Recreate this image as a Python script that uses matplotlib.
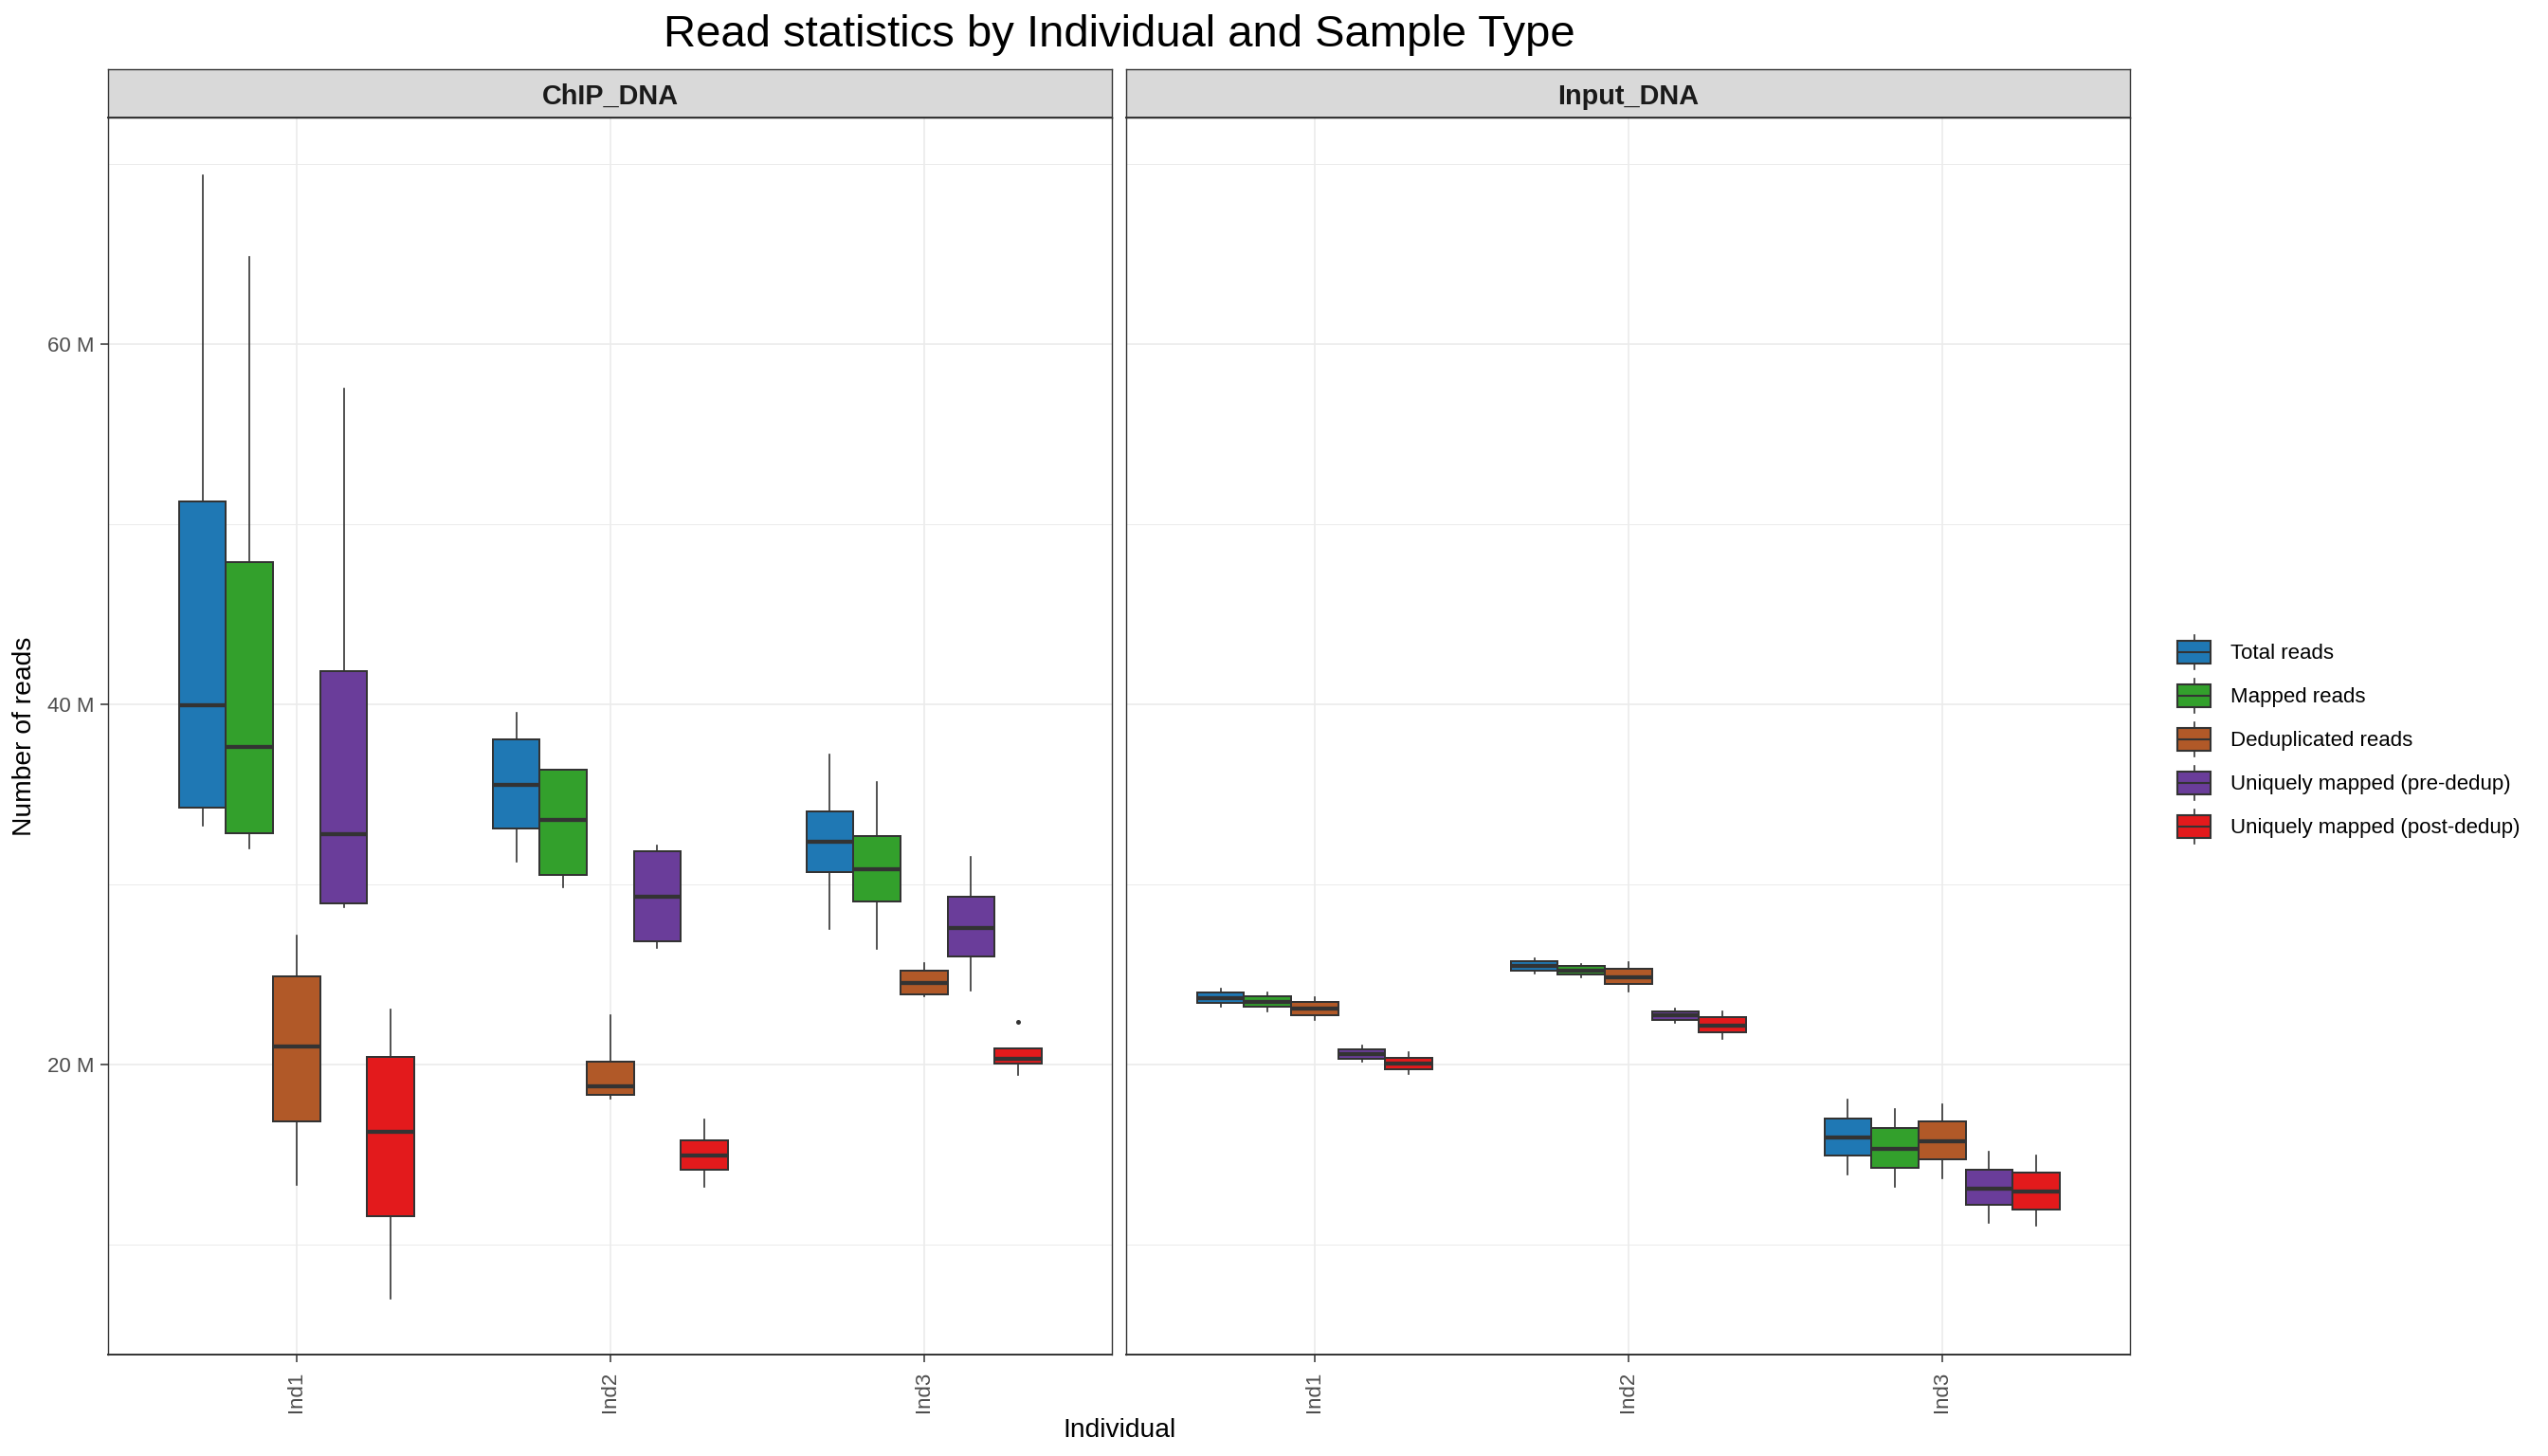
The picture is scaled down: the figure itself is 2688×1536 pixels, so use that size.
import matplotlib
matplotlib.use("Agg")
import matplotlib.pyplot as plt
from matplotlib.patches import Rectangle, Patch
from matplotlib.lines import Line2D
from matplotlib.legend_handler import HandlerBase
from matplotlib.ticker import FixedLocator, MultipleLocator

plt.rcParams['font.family'] = ['Liberation Sans', 'DejaVu Sans']

# ---------------- data ----------------
title = "Read statistics by Individual and Sample Type"
x_label = "Individual"
y_label = "Number of reads"
sample_types = ["ChIP_DNA", "Input_DNA"]
individuals = ["Ind1", "Ind2", "Ind3"]
series = ["Total reads", "Mapped reads", "Deduplicated reads",
          "Uniquely mapped (pre-dedup)", "Uniquely mapped (post-dedup)"]
series_colors = ["#1F78B4", "#33A02C", "#B15928", "#6A3D9A", "#E31A1C"]
y_ticks = [20, 40, 60]
y_tick_labels = ["20 M", "40 M", "60 M"]

# values in millions of reads; rows = series, columns = Ind1..Ind3
chip_whislo = [[33.3, 31.3, 27.55], [32.0, 29.87, 26.45], [13.32, 18.09, 23.8],
               [28.75, 26.48, 24.1], [6.99, 13.21, 19.43]]
chip_q1 = [[34.3, 33.1, 30.7], [32.85, 30.56, 29.08], [16.83, 18.3, 23.92],
           [28.98, 26.84, 25.99], [11.59, 14.14, 20.05]]
chip_med = [[39.95, 35.56, 32.4], [37.65, 33.57, 30.85], [21.03, 18.81, 24.52],
            [32.8, 29.34, 27.59], [16.28, 14.94, 20.31]]
chip_q3 = [[51.3, 38.05, 34.05], [47.9, 36.38, 32.72], [24.88, 20.15, 25.21],
           [41.85, 31.85, 29.34], [20.44, 15.79, 20.93]]
chip_whishi = [[69.4, 39.56, 37.2], [64.87, 36.4, 35.7], [27.15, 22.76, 25.65],
               [57.55, 32.18, 31.56], [23.05, 16.95, 20.93]]
chip_fliers = [[[], [], []], [[], [], []], [[], [], []],
               [[], [], []], [[], [], [22.4]]]

input_whislo = [[23.2, 25.05, 13.89], [22.95, 24.84, 13.21], [22.47, 24.05, 13.68],
                [20.16, 22.32, 11.21], [19.47, 21.42, 11.05]]
input_q1 = [[23.44, 25.23, 14.93], [23.2, 25.02, 14.28], [22.77, 24.46, 14.72],
            [20.33, 22.49, 12.21], [19.75, 21.81, 11.98]]
input_med = [[23.72, 25.47, 15.98], [23.5, 25.23, 15.35], [23.1, 24.86, 15.75],
             [20.6, 22.74, 13.12], [20.04, 22.18, 12.96]]
input_q3 = [[24.0, 25.75, 17.0], [23.79, 25.46, 16.47], [23.49, 25.33, 16.84],
            [20.84, 22.96, 14.16], [20.37, 22.63, 14.0]]
input_whishi = [[24.23, 25.93, 18.04], [24.03, 25.61, 17.51], [23.77, 25.67, 17.82],
                [21.04, 23.12, 15.14], [20.67, 22.98, 14.98]]
input_fliers = [[[], [], []], [[], [], []], [[], [], []],
                [[], [], []], [[], [], []]]

stats_by_type = {
    "ChIP_DNA": dict(whislo=chip_whislo, q1=chip_q1, med=chip_med, q3=chip_q3,
                     whishi=chip_whishi, fliers=chip_fliers),
    "Input_DNA": dict(whislo=input_whislo, q1=input_q1, med=input_med, q3=input_q3,
                      whishi=input_whishi, fliers=input_fliers),
}

# ---------------- style ----------------
EDGE = "#333333"
GRID = "#EBEBEB"
box_w = 0.15

fig = plt.figure(figsize=(13.44, 7.68), dpi=200)

panel_bottom = 0.06966
panel_h = 0.84961
panel_w = 0.39398
panel_lefts = [0.04252, 0.44208]
strip_h = 0.0332


class BoxKey(HandlerBase):
    def create_artists(self, legend, orig_handle, xdescent, ydescent,
                       width, height, fontsize, trans):
        fc = orig_handle.get_facecolor()
        x0 = -xdescent
        y0 = -ydescent
        cx = x0 + width / 2
        bh = height * 0.66
        by = y0 + (height - bh) / 2
        wl = Line2D([cx, cx], [y0, y0 + height], color=EDGE, lw=0.6, transform=trans)
        rect = Rectangle((x0, by), width, bh, facecolor=fc, edgecolor=EDGE,
                         lw=0.75, transform=trans)
        med = Line2D([x0, x0 + width], [by + bh / 2] * 2, color=EDGE, lw=0.75,
                     transform=trans, solid_capstyle='butt')
        return [wl, rect, med]


axes = []
for k, st in enumerate(sample_types):
    ax = fig.add_axes([panel_lefts[k], panel_bottom, panel_w, panel_h])
    axes.append(ax)
    d = stats_by_type[st]
    for s, (name, color) in enumerate(zip(series, series_colors)):
        stats, pos = [], []
        for i in range(len(individuals)):
            stats.append(dict(med=d['med'][s][i], q1=d['q1'][s][i], q3=d['q3'][s][i],
                              whislo=d['whislo'][s][i], whishi=d['whishi'][s][i],
                              fliers=d['fliers'][s][i]))
            pos.append(i + 1 + (s - 2) * box_w)
        ax.bxp(stats, positions=pos, widths=box_w, patch_artist=True, showcaps=False,
               manage_ticks=False,
               boxprops=dict(facecolor=color, edgecolor=EDGE, linewidth=0.72),
               medianprops=dict(color=EDGE, linewidth=1.55, solid_capstyle='butt'),
               whiskerprops=dict(color=EDGE, linewidth=0.6),
               flierprops=dict(marker='o', markersize=1.8, markerfacecolor=EDGE,
                               markeredgecolor=EDGE, markeredgewidth=0))
    ax.set_xlim(0.4, 3.6)
    ax.set_ylim(3.9, 72.6)
    ax.set_axisbelow(True)
    ax.set_xticks(range(1, len(individuals) + 1))
    ax.set_xticklabels(individuals, rotation=90)
    ax.yaxis.set_major_locator(FixedLocator(y_ticks))
    ax.yaxis.set_minor_locator(MultipleLocator(10))
    ax.grid(True, which='major', color=GRID, linewidth=0.6)
    ax.grid(True, which='minor', axis='y', color=GRID, linewidth=0.35)
    ax.tick_params(which='minor', length=0)
    ax.tick_params(axis='both', which='major', length=2.9, width=0.55, color=EDGE,
                   labelcolor='#4D4D4D', labelsize=8)
    ax.tick_params(axis='x', pad=3.6)
    ax.tick_params(axis='y', pad=2.5)
    if k == 0:
        ax.set_yticklabels(y_tick_labels)
    else:
        ax.tick_params(axis='y', left=False, labelleft=False)
    for name_sp, sp in ax.spines.items():
        sp.set_color(EDGE)
        sp.set_linewidth(0.5)
    ax.spines['bottom'].set_linewidth(0.7)

    sax = fig.add_axes([panel_lefts[k], panel_bottom + panel_h, panel_w, strip_h])
    sax.set_facecolor('#D9D9D9')
    sax.set_xticks([])
    sax.set_yticks([])
    for sp in sax.spines.values():
        sp.set_color(EDGE)
        sp.set_linewidth(0.5)
    sax.spines['bottom'].set_linewidth(0.7)
    sax.text(0.5, 0.5, st, ha='center', va='center_baseline', fontweight='bold',
             fontsize=10.4, color='#1A1A1A', transform=sax.transAxes)

handles = [Patch(facecolor=c, label=n) for n, c in zip(series, series_colors)]
fig.legend(handles=handles, labels=series, handler_map={Patch: BoxKey()},
           loc='center left', bbox_to_anchor=(2297 / 2688, 1 - 780 / 1536),
           frameon=False, fontsize=8, handlelength=1.575, handleheight=2.115,
           labelspacing=0.45, handletextpad=0.95, borderpad=0, borderaxespad=0)

fig.text(0.4392, 0.968, title, ha='center', va='baseline', fontsize=17, color='black')
fig.text(0.00967, 0.4945, y_label, rotation=90, ha='center', va='center',
         fontsize=10.2, color='black')
fig.text(0.4392, 0.013, x_label, ha='center', va='baseline', fontsize=10.2, color='black')

fig.savefig("out.png", dpi=200, facecolor='white')
